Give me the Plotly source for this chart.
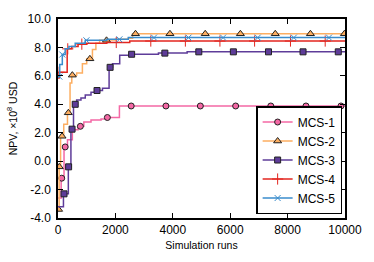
import numpy as np
import plotly.graph_objects as go

# ---- data ----
names = ["MCS-1", "MCS-2", "MCS-3", "MCS-4", "MCS-5"]

mcs1_x = [0, 110, 210, 330, 500, 700, 900, 1150, 1500, 1700, 2140, 10000]
mcs1_y = [-2.6, -1.2, 1.0, 1.5, 2.2, 2.45, 2.75, 2.9, 2.97, 3.07, 3.88, 3.88]
mcs1_mx = [130, 250, 780, 1720, 2550, 3760, 4960, 6190, 7415, 8640, 9860]

mcs2_x = [0, 40, 90, 200, 330, 420, 480, 650, 850, 1000, 1200, 1320, 1450, 1700, 2000, 2450, 2600, 10000]
mcs2_y = [-3.4, -0.4, 1.75, 2.6, 3.4, 5.5, 6.05, 6.2, 6.85, 7.2, 7.85, 8.3, 8.5, 8.52, 8.58, 8.65, 8.96, 8.96]
mcs2_mx = [20, 45, 140, 360, 500, 1110, 1690, 2700, 3900, 5130, 6355, 7570, 8795, 9980]

mcs3_x = [0, 190, 360, 450, 540, 650, 800, 950, 1150, 1300, 1550, 1780, 1900, 2150, 2500, 3500, 4500, 10000]
mcs3_y = [-3.2, -2.3, -0.4, 2.25, 4.0, 4.3, 4.45, 4.65, 4.85, 4.97, 5.12, 6.6, 6.85, 7.45, 7.52, 7.6, 7.69, 7.69]
mcs3_mx = [210, 370, 490, 600, 1360, 1816, 2565, 3723, 4906, 6110, 7334, 8538, 9766]

mcs4_x = [0, 40, 320, 480, 700, 1000, 1700, 2500, 10000]
mcs4_y = [5.85, 6.25, 7.9, 8.07, 8.23, 8.3, 8.35, 8.45, 8.45]
mcs4_mx = [40, 340, 830, 2030, 3233, 4438, 5642, 6850, 8100, 9310]

mcs5_x = [0, 60, 150, 250, 380, 600, 950, 1700, 2450, 10000]
mcs5_y = [5.95, 6.8, 7.5, 7.9, 8.07, 8.3, 8.5, 8.57, 8.69, 8.69]
mcs5_mx = [45, 150, 990, 2140, 3344, 4548, 5752, 6960, 8217, 9441]

y_tickvals = [-4, -2, 0, 2, 4, 6, 8, 10]
y_ticktext = ["-4.0", "-2.0", "0.0", "2.0", "4.0", "6.0", "8.0", "10.0"]
x_tickvals = [0, 2000, 4000, 6000, 8000, 10000]
x_ticktext = ["0", "2000", "4000", "6000", "8000", "10000"]

# ---- styles ----
series = [
    (mcs1_x, mcs1_y, mcs1_mx, "#f468a5", dict(symbol="circle", size=6, color="#f468a5", line=dict(color="#222", width=1))),
    (mcs2_x, mcs2_y, mcs2_mx, "#fdae61", dict(symbol="triangle-up", size=7, color="#fdae61", line=dict(color="#222", width=1))),
    (mcs3_x, mcs3_y, mcs3_mx, "#5e3c99", dict(symbol="square", size=6, color="#5e3c99", line=dict(color="#222", width=1))),
    (mcs4_x, mcs4_y, mcs4_mx, "#e3261f", dict(symbol="cross-thin", size=8, color="#e3261f", line=dict(color="#e3261f", width=1))),
    (mcs5_x, mcs5_y, mcs5_mx, "#3a8ccc", dict(symbol="x-thin", size=6, color="#3a8ccc", line=dict(color="#3a8ccc", width=1))),
]


def step_value(xs, ys, x):
    i = np.searchsorted(np.asarray(xs), x, side="right") - 1
    return ys[max(i, 0)]


fig = go.Figure()
for name, (xs, ys, mx, col, mk) in zip(names, series):
    fig.add_trace(go.Scatter(x=xs, y=ys, mode="lines", line=dict(color=col, width=1.5, shape="hv"),
                             showlegend=False, legendgroup=name, hoverinfo="skip"))
    my = [step_value(xs, ys, v) for v in mx]
    fig.add_trace(go.Scatter(x=mx, y=my, mode="markers", marker=mk, showlegend=False,
                             legendgroup=name))
    fig.add_trace(go.Scatter(x=[None], y=[None], mode="lines+markers", name=name,
                             line=dict(color=col, width=1.5), marker=mk, legendgroup=name))

FONT = "Liberation Sans, Arial, sans-serif"
axis_common = dict(showline=True, linecolor="black", linewidth=1.5, mirror="ticks",
                   ticks="inside", ticklen=5, tickwidth=1, tickcolor="black",
                   showgrid=False, zeroline=False,
                   tickfont=dict(family=FONT, size=12, color="black"))

fig.update_layout(
    width=374, height=262,
    margin=dict(l=56, r=19, t=13, b=40),
    paper_bgcolor="white", plot_bgcolor="white",
    font=dict(family=FONT, size=12, color="black"),
    xaxis=dict(range=[0, 10000], tickvals=x_tickvals, ticktext=x_ticktext,
               title=dict(text="Simulation runs", standoff=5, font=dict(size=10.5)), **axis_common),
    yaxis=dict(range=[-4, 10], tickvals=y_tickvals, ticktext=y_ticktext, ticklabelstandoff=3,
               title=dict(text="NPV, ×10<sup>8</sup> USD", standoff=8, font=dict(size=10.5)), **axis_common),
    legend=dict(x=0.99, y=0.02, xanchor="right", yanchor="bottom",
                bgcolor="white", bordercolor="black", borderwidth=1.5,
                font=dict(size=12), tracegroupgap=0),
)

fig.write_html("out.html", config={"displayModeBar": False},
               post_script="document.body.style.margin='0px';")
